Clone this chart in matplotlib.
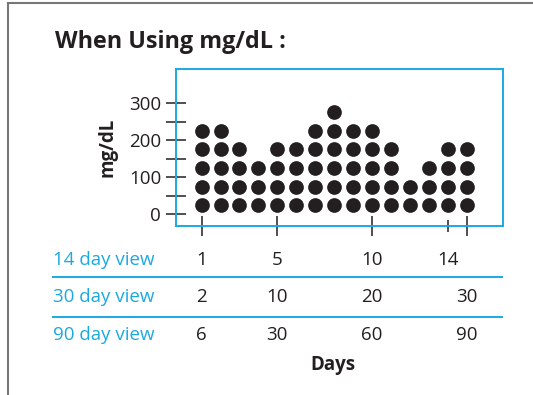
import matplotlib.pyplot as plt
import matplotlib.transforms as mtransforms
from matplotlib.lines import Line2D

# readings per day, counted in 50 mg/dL bins (0-50, 50-100, ...)
days = [1, 2, 3, 4, 5, 6, 7, 8, 9, 10, 11, 12, 13, 14, 15]
dots_per_day = [5, 5, 4, 3, 4, 4, 5, 6, 5, 5, 4, 2, 3, 4, 4]
bin_centers = [25, 75, 125, 175, 225, 275]

view_names = ["14 day view", "30 day view", "90 day view"]
view_pos = [[1, 5, 10, 14], [1, 5, 10, 15], [1, 5, 10, 15]]
view_labels = [["1", "5", "10", "14"], ["2", "10", "20", "30"], ["6", "30", "60", "90"]]

BLUE = "#1ba9e1"
INK = "#231f20"
plt.rcParams["font.family"] = ["Open Sans", "DejaVu Sans"]

fig = plt.figure(figsize=(5.33, 3.95), dpi=100)
W, H = 533, 395

def fx(px):
    return px / W

def fy(py):
    return 1 - py / H

ax = fig.add_axes([fx(175.7), fy(226), fx(503) - fx(175.7), fy(69.3) - fy(226)])

xs, ys = [], []
for d, n in zip(days, dots_per_day):
    for v in bin_centers[:n]:
        xs.append(d)
        ys.append(v)
ax.scatter(xs, ys, s=112, color=INK, linewidths=0, zorder=3)

ax.set_xlim(-0.37, 16.92)
ax.set_ylim(-31.5, 391)
for sp in ax.spines.values():
    sp.set_color(BLUE)
    sp.set_linewidth(1.4)

ax.set_yticks([0, 100, 200, 300])
ax.set_yticks([50, 150, 250], minor=True)
ax.set_xticks([1, 5, 10, 15])
ax.set_xticks([14], minor=True)
ax.set_xticklabels([])
ax.tick_params(axis="y", which="both", direction="inout", length=15, width=1.1,
               color=INK, labelsize=13.5, labelcolor=INK, pad=3)
ax.tick_params(axis="x", which="major", direction="inout", length=15, width=1.1, color=INK)
ax.tick_params(axis="x", which="minor", direction="inout", length=8, width=1.1, color=INK)
ax.set_ylabel("mg/dL", fontsize=13.5, fontweight="bold", color=INK, labelpad=8)

# outer frame
fig.add_artist(Line2D([fx(8), fx(8)], [0, fy(3)], color="#777777", lw=1.5))
fig.add_artist(Line2D([fx(8), 1], [fy(3), fy(3)], color="#777777", lw=1.5))

fig.text(fx(55), fy(42), "When Using mg/dL :", fontsize=16.8, fontweight="bold",
         color=INK, va="center", ha="left")

# day-scale table under the axis
trans = mtransforms.blended_transform_factory(ax.transData, fig.transFigure)
row_y = [259.7, 297.5, 334.5]
for name, pos, labs, py in zip(view_names, view_pos, view_labels, row_y):
    fig.text(fx(53), fy(py), name, fontsize=13.5, color=BLUE, va="center", ha="left")
    for p, lab in zip(pos, labs):
        ax.text(p, fy(py), lab, transform=trans, fontsize=13.5, color=INK,
                va="center", ha="center", clip_on=False)
for py in [276.5, 316.5]:
    fig.add_artist(Line2D([fx(53), fx(502)], [fy(py), fy(py)], color=BLUE, lw=1.4))

fig.text(fx(333), fy(365), "Days", fontsize=13.5, fontweight="bold", color=INK,
         va="center", ha="center")

fig.savefig("out.png", dpi=100)
